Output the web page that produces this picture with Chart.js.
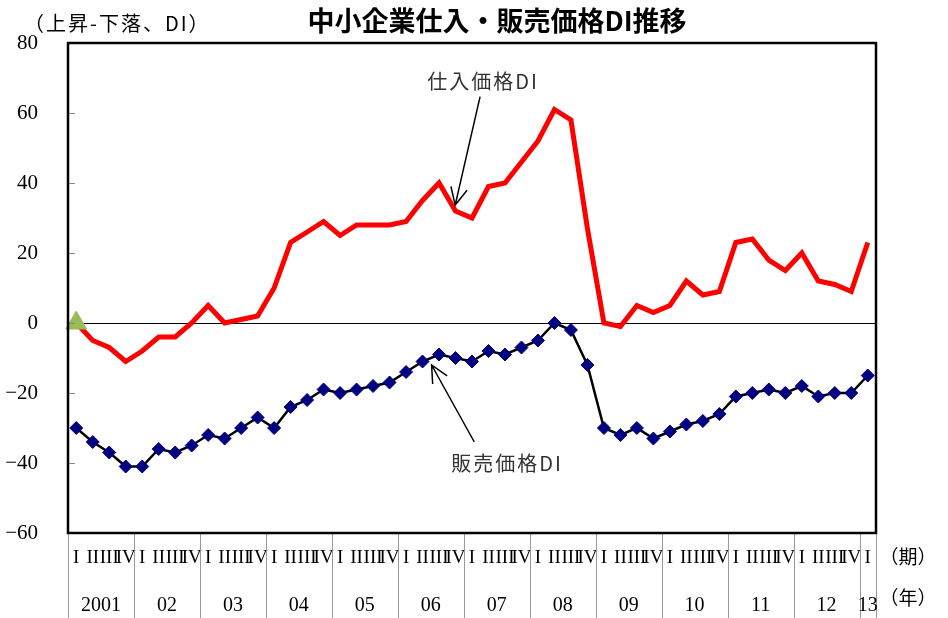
<!DOCTYPE html>
<html>
<head>
<meta charset="utf-8">
<script src="https://cdn.jsdelivr.net/npm/chart.js@4.4.1/dist/chart.umd.min.js"></script>
<style>
  body { margin: 0; background: #fff; }
  #wrap { width: 948px; height: 618px; position: relative; }
</style>
</head>
<body>
<div id="wrap"><canvas id="grafico"></canvas></div>
<script>
// 四半期ラベルと年ラベル
const quarterNames = ['I', 'II', 'III', 'IV'];
const years = ['2001', '02', '03', '04', '05', '06', '07', '08', '09', '10', '11', '12', '13'];

// 仕入価格DI (2001 I 〜 2013 I)
const purchaseDI = [0, -5, -7, -11, -8, -4, -4, 0, 5, 0, 1, 2,
    10, 23, 26, 29, 25, 28, 28, 28, 29, 35, 40, 32,
    30, 39, 40, 46, 52, 61, 58, 27, 0, -1, 5, 3,
    5, 12, 8, 9, 23, 24, 18, 15, 20, 12, 11, 9, 23];

// 販売価格DI
const salesDI = [-30, -34, -37, -41, -41, -36, -37, -35, -32, -33, -30, -27,
    -30, -24, -22, -19, -20, -19, -18, -17, -14, -11, -9, -10,
    -11, -8, -9, -7, -5, 0, -2, -12, -30, -32, -30, -33,
    -31, -29, -28, -26, -21, -20, -19, -20, -18, -21, -20, -20, -15];

// 起点マーク
const startMark = [0];

const yTicks = { min: -60, max: 80, step: 20 };

const labels = [];
years.forEach((y, k) => {
    const n = k === years.length - 1 ? 1 : 4;
    for (let q = 0; q < n; q++) labels.push(quarterNames[q]);
});

// 注記 (x = 系列の位置, y = DI値)
const notes = [
    { text: '仕入価格DI', at: [24.67, 68.9], from: [24.49, 64.7], to: [22.98, 33.7] },
    { text: '販売価格DI', at: [26.12, -40.0], from: [24.14, -34.0], to: [21.55, -12.0] }
];

const serif = '"Liberation Serif", "DejaVu Serif", serif';
const cjk = '"Noto Sans CJK JP", "Noto Sans", sans-serif';

function xAt(scale, v) {
    const p0 = scale.getPixelForValue(0);
    const p1 = scale.getPixelForValue(1);
    return p0 + v * (p1 - p0);
}

const decor = {
    id: 'decor',
    afterDraw(chart) {
        const ctx = chart.ctx;
        const a = chart.chartArea;
        const xs = chart.scales.x;
        const ys = chart.scales.y;
        ctx.save();

        // y軸の内側目盛
        ctx.strokeStyle = '#888';
        ctx.lineWidth = 1;
        for (let v = yTicks.min; v <= yTicks.max; v += yTicks.step) {
            const py = Math.round(ys.getPixelForValue(v)) + 0.5;
            ctx.beginPath();
            ctx.moveTo(a.left, py);
            ctx.lineTo(a.left + 7, py);
            ctx.stroke();
        }

        // 年の区切り線
        ctx.strokeStyle = '#999';
        const seps = [];
        for (let i = 0; i < purchaseDI.length; i += 4) seps.push(i - 0.5);
        seps.push(purchaseDI.length - 0.5);
        seps.forEach(s => {
            const px = Math.round(xAt(xs, s)) + 0.5;
            ctx.beginPath();
            ctx.moveTo(px, a.bottom);
            ctx.lineTo(px, chart.height);
            ctx.stroke();
        });

        // 年ラベル
        ctx.fillStyle = '#000';
        ctx.font = '20px ' + serif;
        ctx.textAlign = 'center';
        ctx.textBaseline = 'middle';
        years.forEach((y, k) => {
            const s = 4 * k - 0.5;
            const e = Math.min(4 * k + 3.5, purchaseDI.length - 0.5);
            ctx.fillText(y, (xAt(xs, s) + xAt(xs, e)) / 2, 606);
        });

        // 単位
        ctx.font = '19px ' + cjk;
        ctx.fillText('（期）', 908, 557);
        ctx.fillText('（年）', 908, 598);
        ctx.textAlign = 'left';
        ctx.font = '20px ' + cjk;
        ctx.letterSpacing = '2px';
        ctx.fillText('（上昇-下落、DI）', 24, 23);

        // タイトル
        ctx.letterSpacing = '0px';
        ctx.textAlign = 'center';
        ctx.font = 'bold 27px ' + cjk;
        ctx.fillText('中小企業仕入・販売価格DI推移', 497, 21);

        // 注記と矢印
        ctx.font = '20px ' + cjk;
        ctx.letterSpacing = '2px';
        ctx.fillStyle = '#333';
        ctx.strokeStyle = '#000';
        ctx.lineWidth = 1.5;
        notes.forEach(n => {
            ctx.fillText(n.text, xAt(xs, n.at[0]), ys.getPixelForValue(n.at[1]));
            const x1 = xAt(xs, n.from[0]), y1 = ys.getPixelForValue(n.from[1]);
            const x2 = xAt(xs, n.to[0]), y2 = ys.getPixelForValue(n.to[1]);
            ctx.beginPath();
            ctx.moveTo(x1, y1);
            ctx.lineTo(x2, y2);
            const ang = Math.atan2(y2 - y1, x2 - x1);
            const len = 19, spread = 0.45;
            ctx.moveTo(x2 - len * Math.cos(ang - spread), y2 - len * Math.sin(ang - spread));
            ctx.lineTo(x2, y2);
            ctx.lineTo(x2 - len * Math.cos(ang + spread), y2 - len * Math.sin(ang + spread));
            ctx.stroke();
        });
        ctx.letterSpacing = '0px';

        // 枠
        ctx.strokeStyle = '#000';
        ctx.lineWidth = 2.5;
        ctx.strokeRect(a.left, a.top, a.right - a.left, a.bottom - a.top);
        ctx.restore();
    }
};

const ctx = document.getElementById('grafico').getContext('2d');
const chart = new Chart(ctx, {
    type: 'line',
    data: {
        labels: labels,
        datasets: [
            {
                label: '起点',
                data: startMark,
                showLine: false,
                pointStyle: 'triangle',
                pointRadius: 12,
                backgroundColor: '#9BBB59',
                borderColor: '#9BBB59',
                borderWidth: 1,
                order: 0
            },
            {
                label: '仕入価格DI',
                data: purchaseDI,
                borderColor: '#FF0000',
                borderWidth: 5,
                pointRadius: 0,
                tension: 0,
                order: 1
            },
            {
                label: '販売価格DI',
                data: salesDI,
                borderColor: '#000000',
                borderWidth: 2.5,
                pointStyle: 'rectRot',
                pointRadius: 6.5,
                pointBackgroundColor: '#000080',
                pointBorderColor: '#000080',
                pointBorderWidth: 1,
                tension: 0,
                order: 2
            }
        ]
    },
    options: {
        responsive: true,
        maintainAspectRatio: false,
        animation: false,
        layout: { padding: { top: 43, right: 72, left: 0, bottom: 0 } },
        plugins: {
            legend: { display: false },
            tooltip: { enabled: false }
        },
        scales: {
            x: {
                offset: true,
                grid: { display: false, drawTicks: false },
                border: { display: false },
                ticks: {
                    autoSkip: false,
                    maxRotation: 0,
                    padding: 14,
                    color: '#000',
                    font: { family: serif, size: 19 }
                },
                afterFit: s => { s.height = 85; }
            },
            y: {
                min: yTicks.min,
                max: yTicks.max,
                border: { display: false },
                grid: {
                    drawTicks: false,
                    color: c => (c.tick && c.tick.value === 0 ? '#000' : 'rgba(0,0,0,0)'),
                    lineWidth: 1
                },
                ticks: {
                    stepSize: yTicks.step,
                    padding: 30,
                    color: '#000',
                    font: { family: serif, size: 21 },
                    callback: v => (v < 0 ? '\u2212' + Math.abs(v) : String(v))
                },
                afterFit: s => { s.width = 68; }
            }
        }
    },
    plugins: [decor]
});
</script>
</body>
</html>
